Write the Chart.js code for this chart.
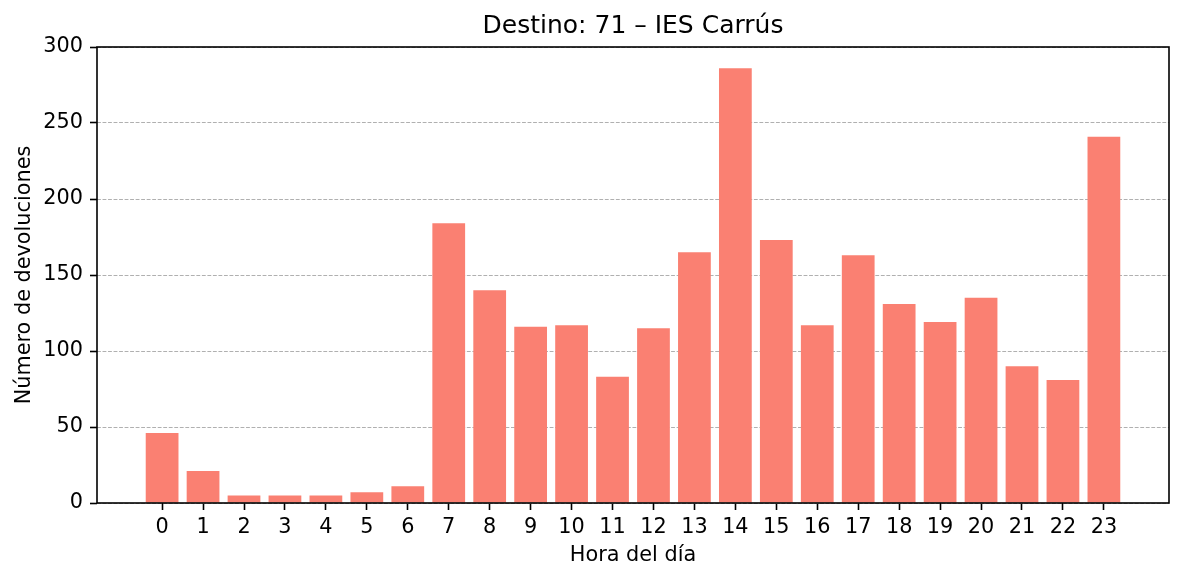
<!DOCTYPE html>
<html>
<head>
<meta charset="utf-8">
<script src="https://cdn.jsdelivr.net/npm/chart.js@4/dist/chart.umd.min.js"></script>
<style>
  html, body { margin: 0; padding: 0; background: #fff; }
  #wrap { width: 1184px; height: 581px; }
</style>
</head>
<body>
<div id="wrap"><canvas id="c" width="1184" height="581"></canvas></div>
<script>
const titleText = 'Destino: 71 – IES Carrús';
const xLabel = 'Hora del día';
const yLabel = 'Número de devoluciones';
const hours = [0,1,2,3,4,5,6,7,8,9,10,11,12,13,14,15,16,17,18,19,20,21,22,23];
const devoluciones = [46,21,5,5,5,7,11,184,140,116,117,83,115,165,286,173,117,163,131,119,135,90,81,241];
const yTicks = [0,50,100,150,200,250,300];

const FONT = 'DejaVu Sans';

const boxPlugin = {
  id: 'boxPlugin',
  afterDatasetsDraw(chart) {
    const a = chart.chartArea;
    const ctx = chart.ctx;
    ctx.save();
    ctx.strokeStyle = '#000';
    ctx.lineWidth = 1.6;
    ctx.strokeRect(a.left, a.top, a.right - a.left, a.bottom - a.top);
    ctx.restore();
  }
};

// Title centred over the plot area (as in the reference)
const axesTitlePlugin = {
  id: 'axesTitle',
  afterDraw(chart) {
    const a = chart.chartArea;
    const ctx = chart.ctx;
    ctx.save();
    ctx.fillStyle = '#000';
    ctx.font = '25px "' + FONT + '"';
    ctx.textAlign = 'center';
    ctx.textBaseline = 'middle';
    ctx.fillText(titleText, (a.left + a.right) / 2, 26);
    ctx.restore();
  }
};

new Chart(document.getElementById('c'), {
  type: 'bar',
  data: {
    datasets: [{
      data: hours.map((h, i) => ({ x: h, y: devoluciones[i] })),
      backgroundColor: '#fa8072',
      borderWidth: 0,
      barPercentage: 0.8,
      categoryPercentage: 1.0
    }]
  },
  options: {
    responsive: false,
    devicePixelRatio: 1,
    animation: false,
    layout: { padding: { left: 0, right: 15, top: 47, bottom: 0 } },
    plugins: {
      legend: { display: false },
      tooltip: { enabled: false },
      title: { display: false }
    },
    scales: {
      x: {
        type: 'linear',
        offset: false,
        min: -1.59,
        max: 24.59,
        afterBuildTicks: s => { s.ticks = hours.map(v => ({ value: v })); },
        afterFit: s => { s.height = 78; },
        ticks: {
          autoSkip: false,
          maxRotation: 0,
          color: '#000',
          padding: 5,
          font: { family: FONT, size: 20.8 },
          callback: v => String(v)
        },
        grid: {
          offset: false,
          drawOnChartArea: false,
          drawTicks: true,
          tickLength: 7,
          tickColor: '#000',
          tickWidth: 1.6
        },
        border: { display: false },
        title: {
          display: true,
          text: xLabel,
          color: '#000',
          font: { family: FONT, size: 20.8, lineHeight: 1.2 },
          padding: { top: 0, bottom: 13 }
        }
      },
      y: {
        type: 'linear',
        min: 0,
        max: 300,
        afterBuildTicks: s => { s.ticks = yTicks.map(v => ({ value: v })); },
        afterFit: s => { s.width = 97; },
        ticks: {
          color: '#000',
          padding: 7,
          font: { family: FONT, size: 20.8 },
          callback: v => String(v)
        },
        grid: {
          color: '#b0b0b0',
          lineWidth: 1,
          drawTicks: true,
          tickLength: 7,
          tickColor: '#000',
          tickWidth: 1.6,
          tickBorderDash: []
        },
        border: { display: false, dash: [3.85, 1.67] },
        title: {
          display: true,
          text: yLabel,
          color: '#000',
          font: { family: FONT, size: 20.8, lineHeight: 1.2 },
          padding: { top: 12, bottom: 0 }
        }
      }
    }
  },
  plugins: [boxPlugin, axesTitlePlugin]
});
</script>
</body>
</html>
